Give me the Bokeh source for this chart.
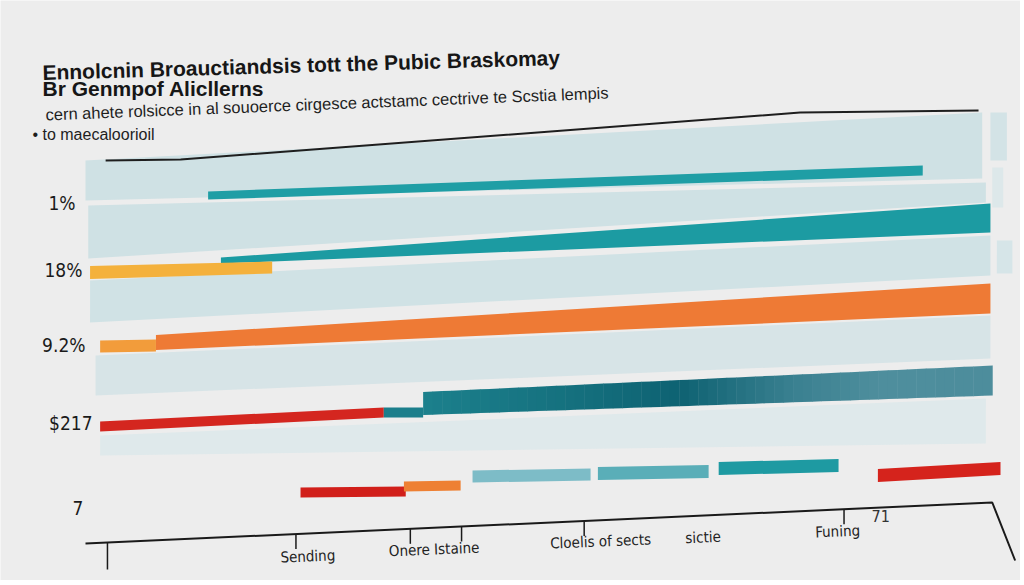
import numpy as np
from bokeh.plotting import figure
from bokeh.models import Range1d
from bokeh.embed import file_html
from bokeh.resources import INLINE
from bokeh.core.properties import value

# ---------------- data ----------------
title_lines = [
    "Ennolcnin Broauctiandsis tott the Pubic Braskomay",
    "Br Genmpof Alicllerns",
]
subtitle_lines = [
    "cern ahete rolsicce in al souoerce cirgesce actstamc cectrive te Scstia lempis",
    "\u2022 to maecaloorioil",
]

# y-axis labels: text, baseline row, right edge
y_labels = ["1%", "18%", "9.2%", "$217", "7"]
y_label_rows = [9.2, 15.9, 23.4, 31.2, 39.7]
y_label_x = [-1.09, -0.33, 0.0, 0.77, -0.22]

# x-axis category labels
x_labels = ["Sending", "Onere Istaine", "Cloelis of sects", "sictie", "Funing"]
x_label_pos = [24.3, 38.1, 56.3, 67.5, 82.2]
x_label_rows = [44.6, 43.9, 43.1, 42.7, 42.1]
x_ticks = [2.4, 23.0, 35.5, 41.1, 54.5, 82.9]
x_tick_len = [2.7, 1.5, 1.5, 1.5, 1.5, 1.5]

# axis (sloped baseline)
axis_x = [0.0, 99.1, 101.6]
axis_y = [43.3, 39.2, 45.0]
# top rule
top_x = [2.2, 10.4, 78.1, 97.6]
top_y = [5.0, 4.9, 0.2, 0.0]

# background bands: x-extent, top/bottom at left and right
band_x0 = [0.0, 0.3, 0.5, 1.1, 1.6, 98.9, 99.1, 99.6]
band_x1 = [98.0, 98.4, 98.9, 98.9, 98.4, 100.7, 100.3, 101.3]
band_top0 = [5.0, 9.5, 17.0, 24.5, 32.5, 0.2, 5.7, 13.0]
band_bot0 = [9.0, 14.8, 21.2, 28.5, 34.5, 5.0, 9.7, 16.3]
band_top1 = [0.2, 7.2, 12.5, 20.5, 28.8, 0.2, 5.7, 13.0]
band_bot1 = [6.8, 9.2, 16.5, 24.8, 33.3, 5.0, 9.7, 16.3]
band_colors = ["#cfe1e4", "#cfe1e4", "#d0e2e5", "#d7e4e7", "#dfe9eb",
               "#d3e3e6", "#dde8ea", "#d6e5e8"]

# bars: start, end, centre row at start/end, thickness at start/end
bar_x0 = [13.4, 14.8, 0.5, 1.6, 7.7, 1.6, 32.6, 23.5, 34.8, 42.3, 56.0, 69.2, 86.6]
bar_x1 = [91.5, 98.9, 20.4, 7.7, 98.9, 32.6, 36.9, 35.0, 41.0, 55.2, 68.1, 82.3, 100.0]
bar_y0 = [8.5, 15.0, 16.2, 23.6, 23.2, 31.6, 30.2, 38.2, 37.6, 36.6, 36.3, 35.8, 36.5]
bar_y1 = [6.0, 10.75, 15.7, 23.5, 18.8, 30.2, 30.2, 38.1, 37.5, 36.4, 36.1, 35.5, 35.8]
bar_t0 = [0.8, 0.6, 1.3, 1.2, 1.5, 1.0, 1.0, 1.0, 1.0, 1.2, 1.3, 1.3, 1.3]
bar_t1 = [1.0, 2.9, 1.2, 1.2, 3.0, 1.0, 1.0, 1.0, 1.0, 1.2, 1.3, 1.3, 1.3]
bar_colors = ["#1f9ea5", "#1c9ba2", "#f4b13c", "#f29c3b", "#ee7a35", "#d4261f",
              "#1b7e8b", "#d11f1a", "#ee8033", "#7dbcc7", "#5aaeb8", "#1e9aa2", "#d5231c"]

# the dark teal bar with a shaded fill
grad_x0, grad_x1 = 36.9, 99.1
grad_y0, grad_y1 = 29.3, 27.0
grad_t0, grad_t1 = 2.3, 3.0
grad_stops = [0.0, 0.25, 0.45, 0.65, 0.8, 1.0]
grad_colors = ["#1c808c", "#15717f", "#0e6272", "#3a8090", "#4e8e9d", "#4d8d9c"]

# ---------------- figure ----------------
BG = "#ededed"
W, H = 1020, 580
X0, PXU = 85.0, 9.15     # page x of value 0, pixels per x unit
Y0, PYU = 110.0, 10.0    # page y of row 0, pixels per row
p = figure(width=W, height=H,
           x_range=Range1d(-X0 / PXU, (W - X0) / PXU),
           y_range=Range1d((H - Y0) / PYU, -Y0 / PYU), output_backend="svg",
           toolbar_location=None, x_axis_location=None, y_axis_location=None,
           min_border=0, background_fill_color=BG, border_fill_color=BG)
p.grid.visible = False
p.outline_line_color = None

# bands
bxs, bys = [], []
for x0, x1, t0, b0, t1, b1 in zip(band_x0, band_x1, band_top0, band_bot0, band_top1, band_bot1):
    bxs.append([x0, x1, x1, x0])
    bys.append([t0, t1, b1, b0])
p.patches(bxs, bys, fill_color=band_colors, line_color=None,
          hatch_pattern="v_line", hatch_color="#c3d7da", hatch_alpha=0.35,
          hatch_scale=5, hatch_weight=1)

# top rule
p.line(top_x, top_y, line_color="#1e1e1e", line_width=2)

# bars
xs, ys = [], []
for x0, x1, y0, y1, t0, t1 in zip(bar_x0, bar_x1, bar_y0, bar_y1, bar_t0, bar_t1):
    xs.append([x0, x1, x1, x0])
    ys.append([y0 - t0 / 2, y1 - t1 / 2, y1 + t1 / 2, y0 + t0 / 2])
p.patches(xs, ys, fill_color=bar_colors, line_color=None)

# shaded dark teal bar
def _rgb(h):
    return np.array([int(h[i:i + 2], 16) for i in (1, 3, 5)], dtype=float)

stops_rgb = np.array([_rgb(c) for c in grad_colors])
n = 60
edges = np.linspace(0, 1, n + 1)
gxs, gys, gcs = [], [], []
for a, b in zip(edges[:-1], edges[1:]):
    xa = grad_x0 + (grad_x1 - grad_x0) * a
    xb = grad_x0 + (grad_x1 - grad_x0) * b + 0.05
    ya = grad_y0 + (grad_y1 - grad_y0) * a
    yb = grad_y0 + (grad_y1 - grad_y0) * b
    ta = grad_t0 + (grad_t1 - grad_t0) * a
    tb = grad_t0 + (grad_t1 - grad_t0) * b
    gxs.append([xa, xb, xb, xa])
    gys.append([ya - ta / 2, yb - tb / 2, yb + tb / 2, ya + ta / 2])
    m = (a + b) / 2
    rgb = [np.interp(m, grad_stops, stops_rgb[:, k]) for k in range(3)]
    gcs.append("#%02x%02x%02x" % tuple(int(round(v)) for v in rgb))
p.patches(gxs, gys, fill_color=gcs, line_color=None)

# axis baseline + ticks
p.line(axis_x, axis_y, line_color="#1a1a1a", line_width=2)
tick_top = np.interp(x_ticks, axis_x[:2], axis_y[:2])
p.segment(x0=x_ticks, y0=tick_top, x1=x_ticks, y1=tick_top + np.array(x_tick_len),
          line_color="#1a1a1a", line_width=1.5)

COND = value("DejaVu Sans Condensed")
# x labels
p.text(x=x_label_pos, y=x_label_rows, text=x_labels, text_align="center",
       text_baseline="alphabetic", text_font=COND,
       text_font_size="15px", text_color="#222222", angle=0.04)
p.text(x=[86.9], y=[40.5], text=["71"], text_align="center", text_baseline="alphabetic",
       text_font=COND, text_font_size="16px", text_color="#333333")

# y labels
p.text(x=y_label_x, y=y_label_rows, text=y_labels, text_align="right",
       text_baseline="alphabetic", text_font=COND,
       text_font_size="19px", text_color="#1a1a1a")

# title / subtitle
p.text(x=[-4.7, -4.7], y=[-3.8, -2.2], text=title_lines, text_align="left",
       text_baseline="alphabetic", text_font=value("Liberation Sans"),
       text_font_style="bold", text_font_size="21px", text_color="#161616",
       angle=[0.029, 0.0])
p.text(x=[-4.37, -5.8], y=[0.4, 2.4], text=subtitle_lines, text_align="left",
       text_baseline="alphabetic", text_font=value("Liberation Sans"),
       text_font_size=["16.5px", "16px"], text_color="#1e1e1e", angle=[0.039, 0.0])

html = file_html(p, INLINE)
html = html.replace("<body>", '<body style="background:%s">' % BG, 1)
open("out.html", "w").write(html)
